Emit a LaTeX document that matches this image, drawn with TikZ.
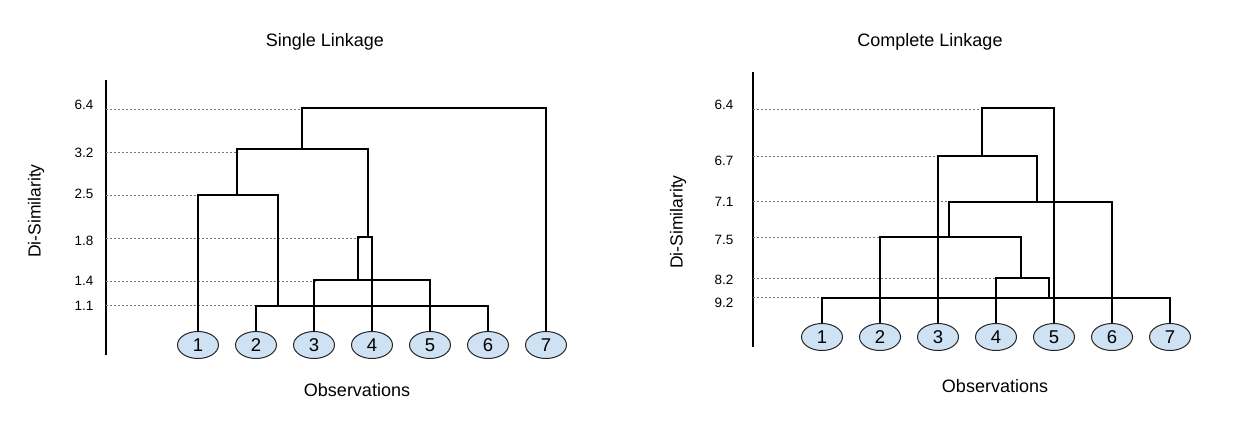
\documentclass[tikz,border=0pt]{standalone}
\usepackage{fontspec}
\setmainfont{Liberation Sans}
\usetikzlibrary{shapes.geometric}
\definecolor{obsblue}{RGB}{207,226,243}
\tikzset{
  obs/.style={ellipse, draw=black!85, line width=1pt, fill=obsblue,
    minimum width=41pt, minimum height=27pt, inner sep=0pt,
    font=\fontsize{18.5}{18}\selectfont},
  guide/.style={black!55, dash pattern=on 2pt off 2pt, line width=0.8pt},
  link/.style={line width=1.4pt},
  axis/.style={line width=1.4pt},
  tick/.style={anchor=east, font=\fontsize{13.5}{14}\selectfont},
  caption/.style={font=\fontsize{18}{18}\selectfont},
  ylab/.style={rotate=90, font=\fontsize{17.5}{18}\selectfont}
}
\begin{document}
\begin{tikzpicture}[x=1pt,y=-1pt]
  \useasboundingbox (0,0) rectangle (1244,442);

  % single linkage
  \node[caption] (titleL) at (325,42) {Single Linkage};
  \node[ylab] (ylabL) at (36,211) {Di-Similarity};
  \node[caption] (obsL) at (357,390) {Observations};
  \coordinate (axLtop) at (106,80);
  \coordinate (axLbot) at (106,355);
  \draw[axis] (axLtop) -- (axLbot);
  \foreach \v/\ly/\dy/\dx [count=\i] in {6.4/105/109/303, 3.2/152.5/152/238,
      2.5/194/195.5/199, 1.8/240.5/238.5/360, 1.4/281/281/316, 1.1/306/305.7/256}{
    \node[tick] (tl\i) at (97,\ly) {\v};
    \draw[guide] (axLtop |- 0,\dy) -- (\dx,\dy);
  }
  \foreach \i in {1,...,7}
    \node[obs] (l\i) at ({198+58*(\i-1)},345) {\i};

  \coordinate (L64) at (0,108);
  \coordinate (L32) at (0,149);
  \coordinate (L25) at (0,195);
  \coordinate (L18) at (0,237);
  \coordinate (L14) at (0,280);
  \coordinate (L11) at (0,306);
  \coordinate (k25) at (278,195);
  \coordinate (k32) at (237,195);
  \coordinate (k32r) at (368,149);
  \coordinate (k64) at (302,149);
  \coordinate (k18) at (358,280);

  \draw[link] (l2.north) |- (l6.north |- L11) -- (l6.north);
  \draw[link] (l3.north) |- (l5.north |- L14) -- (l5.north);
  \draw[link] (k18) |- (l4.north |- L18) -- (l4.north);
  \draw[link] (l1.north) |- (k25) -- (k25 |- L11);
  \draw[link] (k32) |- (k32r) -- (k32r |- L18);
  \draw[link] (k64) |- (l7.north |- L64) -- (l7.north);

  % complete linkage
  \node[caption] (titleR) at (930,42) {Complete Linkage};
  \node[ylab] (ylabR) at (678,222) {Di-Similarity};
  \node[caption] (obsR) at (995,386) {Observations};
  \coordinate (axRtop) at (753,72);
  \coordinate (axRbot) at (753,347);
  \draw[axis] (axRtop) -- (axRbot);
  \foreach \v/\ly/\dy/\dx [count=\i] in {6.4/105/109/982, 6.7/161/156/938,
      7.1/201.7/201.7/949, 7.5/240/237/880, 8.2/280/278.5/996, 9.2/303/297/821}{
    \node[tick] (tr\i) at (737,\ly) {\v};
    \draw[guide] (axRtop |- 0,\dy) -- (\dx,\dy);
  }
  \foreach \i in {1,...,7}
    \node[obs] (r\i) at ({822+58*(\i-1)},337) {\i};

  \coordinate (R64) at (0,108);
  \coordinate (R71) at (0,202);
  \coordinate (R92) at (0,298);
  \coordinate (j82) at (1049,278);
  \coordinate (j75) at (1021,237);
  \coordinate (j71) at (949,237);
  \coordinate (j67) at (1037,156);
  \coordinate (j64) at (982,156);

  \draw[link] (r1.north) |- (r7.north |- R92) -- (r7.north);
  \draw[link] (r4.north) |- (j82) -- (j82 |- R92);
  \draw[link] (r2.north) |- (j75) -- (j75 |- j82);
  \draw[link] (j71) |- (r6.north |- R71) -- (r6.north);
  \draw[link] (r3.north) |- (j67) -- (j67 |- R71);
  \draw[link] (j64) |- (r5.north |- R64) -- (r5.north);
\end{tikzpicture}
\end{document}
